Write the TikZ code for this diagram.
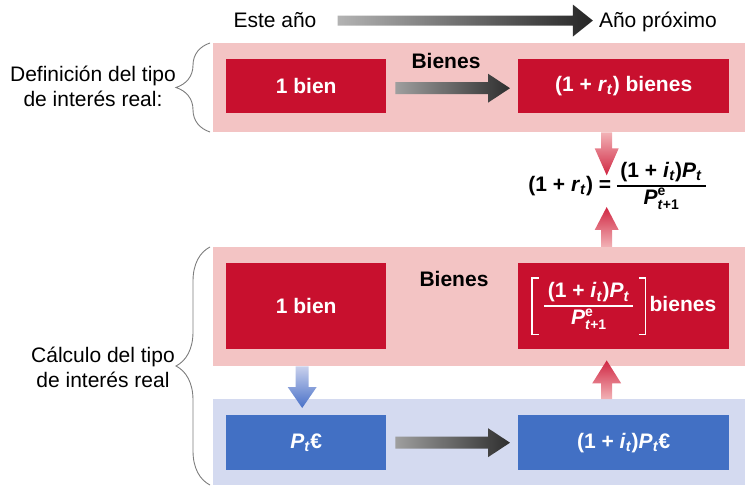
\documentclass[tikz,border=0pt]{standalone}
\usepackage{fontspec}
\setmainfont{Liberation Sans}
\usetikzlibrary{calc,decorations.pathreplacing}

\definecolor{boxred}{RGB}{200,16,46}
\definecolor{bandpink}{RGB}{243,196,196}
\definecolor{boxblue}{RGB}{66,112,196}
\definecolor{bandblue}{RGB}{212,218,240}
\definecolor{bracegray}{RGB}{125,125,125}

\newcommand{\dsize}{\fontsize{21}{25}\selectfont}
\newcommand{\isize}{\fontsize{14}{14}\selectfont}
\newcommand{\idx}[1]{\textsubscript{\textit{#1}}}
\newcommand{\pexp}{\textit{P}\rlap{\raisebox{8.5pt}{\isize e}}\raisebox{-5pt}{\isize\textit{t}+1}}
\newcommand{\frakt}[2]{\ensuremath{\vcenter{\hbox{\setlength{\arrayrulewidth}{1.6pt}\renewcommand{\arraystretch}{1.0}\begin{tabular}{@{\,}c@{\,}}#1\\\hline #2\end{tabular}}}}}
% square brackets drawn with rules
\newcommand{\lbrk}{\ensuremath{\vcenter{\hbox{\vrule width 1.4pt height 29pt depth 29pt\rlap{\vrule width 6pt height 29pt depth -27.6pt}\vrule width 6pt height -27.6pt depth 29pt}}}}
\newcommand{\rbrk}{\ensuremath{\vcenter{\hbox{\rlap{\vrule width 6pt height 29pt depth -27.6pt}\vrule width 6pt height -27.6pt depth 29pt\vrule width 1.4pt height 29pt depth 29pt}}}}
% block arrow: style, from, to, shaft half width, head half width, head length
\newcommand{\blockarrow}[6]{%
  \coordinate (ba-h) at ($(#3)!#6!(#2)$);
  \shade[#1] ($(#2)!#4!90:(#3)$) -- ($(ba-h)!#4!-90:(#2)$) -- ($(ba-h)!#5!-90:(#2)$) -- (#3)
    -- ($(ba-h)!#5!90:(#2)$) -- ($(ba-h)!#4!90:(#2)$) -- ($(#2)!#4!-90:(#3)$) -- cycle;}

\tikzset{
  pinkband/.style={fill=bandpink, inner sep=0pt, anchor=north west, minimum width=532pt},
  blueband/.style={fill=bandblue, inner sep=0pt, anchor=north west, minimum width=532pt},
  redbox/.style={fill=boxred, text=white, font=\dsize\bfseries, inner sep=0pt, anchor=north west},
  bluebox/.style={fill=boxblue, text=white, font=\dsize\bfseries, inner sep=0pt, anchor=north west},
  lbl/.style={inner sep=0pt, font=\dsize},
  boldlbl/.style={inner sep=0pt, font=\dsize\bfseries},
  sidebrace/.style={draw=bracegray, line width=0.9pt, decorate, decoration={brace, amplitude=34pt}},
  grayarrow/.style={left color=black!38, right color=black!82},
  hdarrow/.style={left color=black!30, right color=black!85},
  reddown/.style={top color={rgb,255:red,242;green,178;blue,182}, bottom color={rgb,255:red,208;green,38;blue,66}},
  redup/.style={bottom color={rgb,255:red,242;green,178;blue,182}, top color={rgb,255:red,208;green,38;blue,66}},
  bluedown/.style={top color={rgb,255:red,200;green,208;blue,236}, bottom color={rgb,255:red,72;green,112;blue,200}},
}

\begin{document}
\begin{tikzpicture}[x=1pt,y=-1pt]
\path[use as bounding box] (0,0) rectangle (745,489);
% bands
\node[pinkband, minimum height=89pt] (bandDef) at (213,43) {};
\node[pinkband, minimum height=119pt] (bandCalc) at (213,247) {};
\node[blueband, minimum height=86pt] (bandEur) at (213,399) {};
% header
\node[lbl, anchor=base] (este) at (275,28) {Este año};
\node[lbl, anchor=base] (proximo) at (658,28) {Año próximo};
% side labels
\node[lbl, align=center] (defLbl) at (93,86) {Definición del tipo\\de interés real:};
\node[lbl, align=center] (calcLbl) at (103,367) {Cálculo del tipo\\de interés real};
\draw[sidebrace] (210,132) -- (210,43);
\draw[sidebrace] (210,485) -- (210,247);
% boxes
\node[redbox, minimum width=160pt, minimum height=54pt] (bienA) at (226,59) {1 bien};
\node[redbox, minimum width=211pt, minimum height=54pt] (bienesA) at (518,59) {(1 + \textit{r}\idx{t}) bienes};
\node[redbox, minimum width=160pt, minimum height=86pt] (bienB) at (226,263) {1 bien};
\node[redbox, minimum width=211pt, minimum height=86pt] (bienesB) at (518,263)
  {$\lbrk\;\frakt{(1 + \textit{i}\idx{t})\textit{P}\idx{t}}{\pexp}\;\rbrk$\,bienes};
\node[bluebox, minimum width=160pt, minimum height=55pt] (pA) at (226,415) {\textit{P}\idx{t}€};
\node[bluebox, minimum width=211pt, minimum height=55pt] (pB) at (518,415) {(1 + \textit{i}\idx{t})\textit{P}\idx{t}€};
\node[boldlbl, anchor=base] (bienesLblA) at (446,69) {Bienes};
\node[boldlbl, anchor=base] (bienesLblB) at (454,287) {Bienes};
% equation
\node[boldlbl] (eq) at (617,186) {(1 + \textit{r}\idx{t}) = \frakt{(1 + \textit{i}\idx{t})\textit{P}\idx{t}}{\pexp}};
% arrows
\coordinate (hd1) at ($(este.east)+(21,0)$);
\coordinate (hd2) at ($(hd1 -| proximo.west)+(-6,0)$);
\blockarrow{hdarrow}{hd1}{hd2}{5pt}{16pt}{20pt}
\coordinate (gA1) at ($(bienA.east)+(9,2)$);
\coordinate (gA2) at ($(bienesA.west)+(-8,2)$);
\blockarrow{grayarrow}{gA1}{gA2}{6pt}{14.5pt}{22pt}
\coordinate (gB1) at ($(pA.east)+(9,0)$);
\coordinate (gB2) at ($(pB.west)+(-8,0)$);
\blockarrow{grayarrow}{gB1}{gB2}{6pt}{14.5pt}{22pt}
\coordinate (colR) at ($(bienesB.south)+(-17,0)$);
\coordinate (colL) at ($(bienB.south)+(-4,0)$);
\coordinate (rd1) at (colR |- bandDef.south);
\coordinate (rd2) at ($(rd1)+(0,43)$);
\blockarrow{reddown}{rd1}{rd2}{5.5pt}{12pt}{27pt}
\coordinate (ru1) at (colR |- bandCalc.north);
\coordinate (ru2) at ($(ru1)+(0,-40)$);
\blockarrow{redup}{ru1}{ru2}{5.5pt}{12pt}{23pt}
\coordinate (rb1) at (colR |- bandEur.north);
\coordinate (rb2) at ($(colR |- bienesB.south)+(0,11)$);
\blockarrow{redup}{rb1}{rb2}{5.5pt}{14.5pt}{23pt}
\coordinate (bd1) at (colL |- bandCalc.south);
\coordinate (bd2) at ($(colL |- pA.north)+(0,-7)$);
\blockarrow{bluedown}{bd1}{bd2}{6.5pt}{14.5pt}{21pt}
\end{tikzpicture}
\end{document}
